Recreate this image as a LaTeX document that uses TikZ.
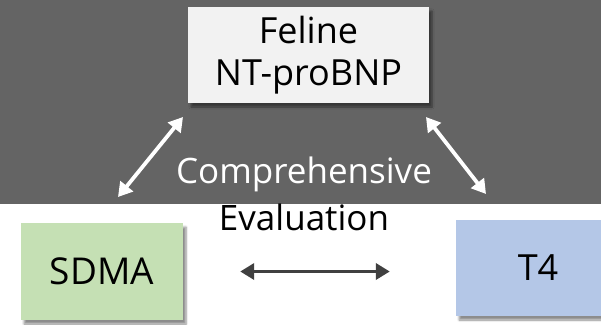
\documentclass[tikz,border=0pt]{standalone}
\usepackage{fontspec}
\setmainfont{Open Sans}
\usetikzlibrary{arrows.meta,shadows.blur}
\definecolor{bggray}{HTML}{646464}
\definecolor{boxgray}{HTML}{F2F2F2}
\definecolor{boxgreen}{HTML}{C5E0B4}
\definecolor{boxblue}{HTML}{B4C7E7}
\definecolor{arrowdark}{HTML}{404040}
\tikzset{
  card/.style={rectangle, inner sep=0pt, text=black,
    blur shadow={shadow xshift=3pt, shadow yshift=-4pt, shadow blur steps=6, shadow opacity=45}},
  link/.style={line width=3.8pt, {Triangle[width=16pt,length=14pt]}-{Triangle[width=16pt,length=14pt]}},
  labeltext/.style={font=\fontsize{35}{47}\selectfont}
}
\begin{document}
\begin{tikzpicture}[x=1pt,y=-1pt]
  \useasboundingbox (0,0) rectangle (601,324);
  % dark upper band
  \fill[bggray] (0,0) rectangle (601,204);
  % the three marker boxes
  \node[card, fill=boxgray, minimum width=241pt, minimum height=96pt, align=center,
        font=\fontsize{36}{42}\selectfont] (nt) at (308.5,55) {Feline\\NT-proBNP};
  \node[card, fill=boxgreen, minimum width=162pt, minimum height=97pt,
        font=\fontsize{37}{40}\selectfont] (sdma) at (102,271.5) {SDMA};
  \node[card, fill=boxblue, minimum width=164pt, minimum height=96pt,
        font=\fontsize{36}{40}\selectfont] (t4) at (538,268) {T4};
  % central caption
  \node[labeltext, align=center, inner sep=0pt] (cap) at (304,194)
    {\textcolor{white}{Comprehensive}\\Evaluation};
  % arrow end points
  \coordinate (l1) at (118,197);
  \coordinate (l2) at (183,117);
  \coordinate (r1) at (426,117);
  \coordinate (r2) at (486,194);
  \draw[link, white] (l1) -- (l2);
  \draw[link, white] (r1) -- (r2);
  \draw[link, arrowdark, shorten <=57pt, shorten >=66pt] (sdma.east) -- (sdma.east -| t4.west);
\end{tikzpicture}
\end{document}
